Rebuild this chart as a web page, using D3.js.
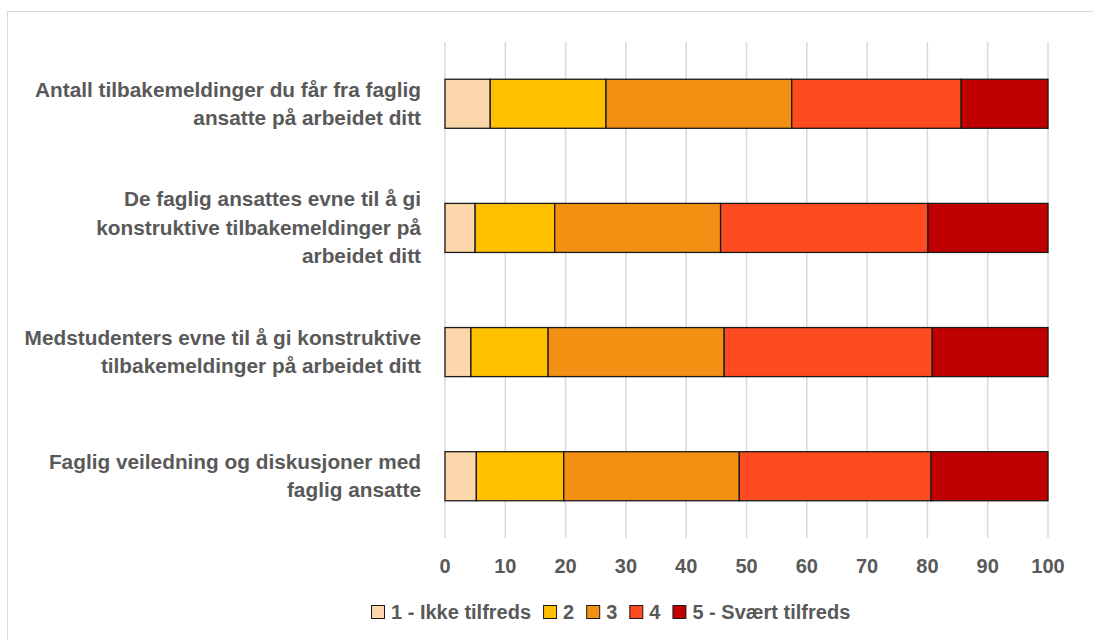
<!DOCTYPE html>
<html>
<head>
<meta charset="utf-8">
<script src="https://cdn.jsdelivr.net/npm/d3@7"></script>
<style>
body { margin: 0; background: #fff; }
text { font-family: "Liberation Sans", Arial, sans-serif; font-weight: bold; fill: #595959; }
</style>
</head>
<body>
<svg width="1093" height="640"></svg>
<script>
var categories = [
	['Antall tilbakemeldinger du får fra faglig', 'ansatte på arbeidet ditt'],
	['De faglig ansattes evne til å gi', 'konstruktive tilbakemeldinger på', 'arbeidet ditt'],
	['Medstudenters evne til å gi konstruktive', 'tilbakemeldinger på arbeidet ditt'],
	['Faglig veiledning og diskusjoner med', 'faglig ansatte']
];
var seriesNames = ['1 - Ikke tilfreds', '2', '3', '4', '5 - Svært tilfreds'];
var s1 = [7.5, 5.0, 4.3, 5.2];
var s2 = [19.2, 13.2, 12.8, 14.5];
var s3 = [30.8, 27.5, 29.2, 29.1];
var s4 = [28.1, 34.4, 34.5, 31.8];
var s5 = [14.4, 19.9, 19.2, 19.4];
var ticks = [0, 10, 20, 30, 40, 50, 60, 70, 80, 90, 100];
var colors = ['#FCD7AC', '#FFC000', '#F38F12', '#FF4B20', '#C00000'];

var svg = d3.select('svg');
var fs = '20px';

// chart border
svg.append('rect')
	.attr('x', 7.5).attr('y', 11.5)
	.attr('width', 1200).attr('height', 700)
	.attr('fill', 'none').attr('stroke', '#d9d9d9').attr('stroke-width', 1);

var x = d3.scaleLinear().domain([0, 100]).range([445, 1048]);
var y = d3.scaleBand().domain(d3.range(categories.length)).range([42, 538]).paddingInner(0.605).paddingOuter(0.3);

// gridlines
svg.append('g').selectAll('line')
	.data(ticks)
	.enter().append('line')
	.attr('x1', d => x(d)).attr('x2', d => x(d))
	.attr('y1', 42).attr('y2', 538)
	.attr('stroke', '#d9d9d9').attr('stroke-width', 1.5);

var rows = categories.map(function(c, i) {
	return { i: i, v: [s1[i], s2[i], s3[i], s4[i], s5[i]] };
});
var stacked = rows.map(function(r) {
	var acc = 0;
	return r.v.map(function(v, k) {
		var seg = { i: r.i, k: k, x0: acc, x1: acc + v };
		acc += v;
		return seg;
	});
});

svg.append('g').selectAll('g')
	.data(stacked)
	.enter().append('g')
	.selectAll('rect')
	.data(d => d)
	.enter().append('rect')
	.attr('x', d => x(d.x0))
	.attr('width', d => x(d.x1) - x(d.x0))
	.attr('y', d => y(d.i))
	.attr('height', y.bandwidth())
	.attr('fill', d => colors[d.k])
	.attr('stroke', '#1a1a1a')
	.attr('stroke-width', 1.3);

// category labels
var lineH = 28.5;
var lab = svg.append('g').selectAll('text')
	.data(categories)
	.enter().append('text')
	.attr('text-anchor', 'end')
	.style('font-size', '20.8px')
	.attr('y', (d, i) => y(i) + y.bandwidth() / 2 - (d.length - 1) * lineH / 2 + 7);
lab.selectAll('tspan')
	.data(d => d)
	.enter().append('tspan')
	.attr('x', 421)
	.attr('dy', (d, j) => j === 0 ? 0 : lineH)
	.text(d => d);

// x axis labels
svg.append('g').selectAll('text')
	.data(ticks)
	.enter().append('text')
	.attr('x', d => x(d))
	.attr('y', 573)
	.attr('text-anchor', 'middle')
	.style('font-size', fs)
	.text(d => d);

// legend
var legend = svg.append('g');
var lx = 371;
seriesNames.forEach(function(name, k) {
	legend.append('rect')
		.attr('x', lx + 0.5).attr('y', 605.5)
		.attr('width', 13).attr('height', 13)
		.attr('fill', colors[k]).attr('stroke', '#1a1a1a').attr('stroke-width', 1);
	var t = legend.append('text')
		.attr('x', lx + 20).attr('y', 619)
		.style('font-size', fs)
		.text(name);
	lx += 20 + t.node().getComputedTextLength() + 12;
});
</script>
</body>
</html>
